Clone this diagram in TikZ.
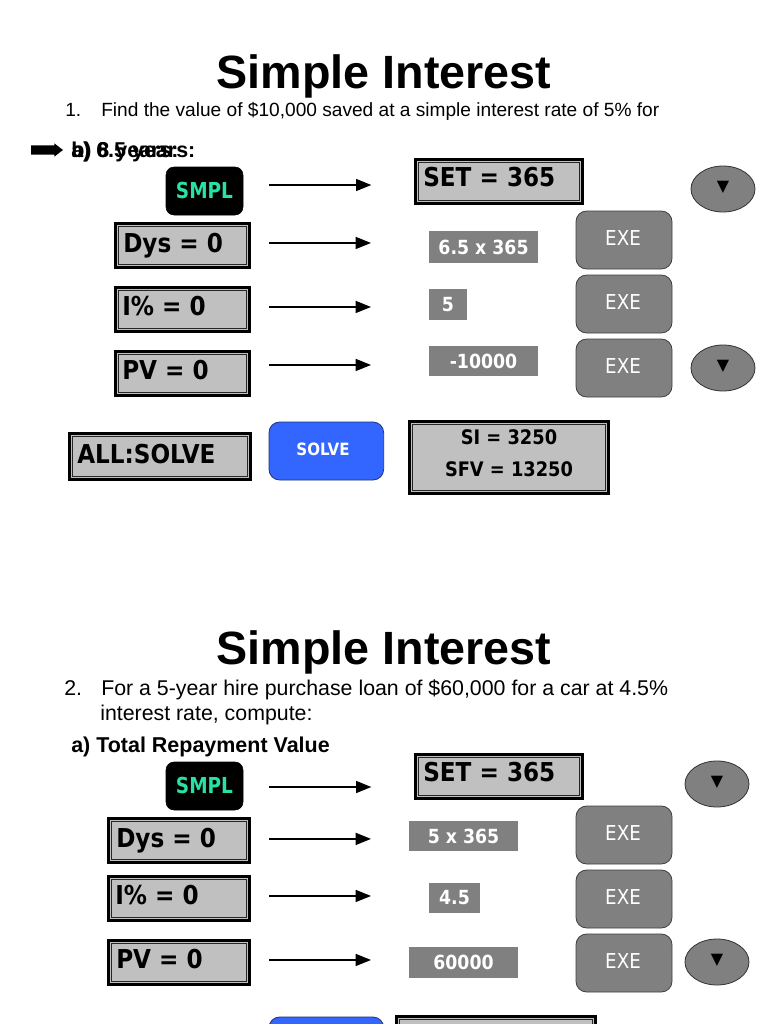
\documentclass[tikz,border=0pt]{standalone}
\usepackage{fontspec}
\setmainfont{Liberation Sans}
\newfontfamily\lcd[FakeStretch=0.89]{DejaVu Sans}
\newfontfamily\smplfont[FakeStretch=0.84]{DejaVu Sans}
\newfontfamily\sym{DejaVu Sans}
\usetikzlibrary{arrows.meta,shapes.geometric,shapes.arrows}
\definecolor{lcdgray}{RGB}{192,192,192}
\definecolor{keygray}{RGB}{128,128,128}
\definecolor{solveblue}{RGB}{51,102,255}
\definecolor{solveedge}{RGB}{30,50,120}
\definecolor{smplgreen}{RGB}{40,225,165}
\tikzset{
  x=0.75pt,y=-0.75pt,
  title/.style={font=\fontsize{35}{40}\selectfont\bfseries,anchor=center,inner sep=0},
  body/.style={font=\fontsize{14.34}{17}\selectfont,anchor=base west,inner sep=0},
  bodylarge/.style={font=\fontsize{16}{19}\selectfont,anchor=base west,inner sep=0},
  sub/.style={font=\fontsize{16.1}{19}\selectfont\bfseries,anchor=base west,inner sep=0},
  lcdbox/.style={draw=black,line width=2pt,fill=lcdgray,outer sep=0,inner sep=0,anchor=north west,
     xshift=1pt,yshift=-1pt,
     path picture={\draw[line width=0.6pt,black!85]
        ([shift={(3.3,3.3)}]path picture bounding box.north west) rectangle ([shift={(-3.3,-3.3)}]path picture bounding box.south east);}},
  lcdtext/.style={font=\lcd\bfseries\fontsize{19.5}{24}\selectfont,anchor=base west,inner sep=0},
  smpl/.style={fill=black,rounded corners=6pt,draw=black,anchor=north west,inner sep=0,outer sep=0,
     text=smplgreen,font=\smplfont\bfseries\fontsize{16.5}{18}\selectfont},
  val/.style={fill=keygray,text=white,font=\lcd\bfseries\fontsize{14.6}{17}\selectfont,anchor=north west,inner sep=0,outer sep=0},
  exe/.style={fill=keygray,draw=black!75,line width=0.6pt,rounded corners=8pt,anchor=north west,inner sep=0,outer sep=0,minimum width=72pt,minimum height=43.5pt},
  exetext/.style={text=white,font=\lcd\fontsize{15.4}{18}\selectfont,inner sep=0},
  oval/.style={ellipse,fill=keygray,draw=black!80,line width=0.6pt,minimum width=48pt,minimum height=34.5pt,inner sep=0,outer sep=0},
  tri/.style={font=\sym\fontsize{12}{14}\selectfont,inner sep=0},
  arr/.style={-{Triangle[length=11.5pt,width=9pt]},line width=1.1pt,black},
  solvebox/.style={fill=solveblue,draw=solveedge,line width=0.6pt,rounded corners=8pt,anchor=north west,inner sep=0,outer sep=0,minimum width=86pt,minimum height=43.5pt},
  restext/.style={font=\lcd\bfseries\fontsize{15}{18}\selectfont,inner sep=0},
}
\begin{document}
\begin{tikzpicture}
\useasboundingbox (0,0) rectangle (768,1024);
\clip (0,0) rectangle (768,1024);
\fill[white] (0,0) rectangle (768,1024);

% ---- page 1
\node[title] (t1) at (384,76) {Simple Interest};
\node[body] (n1) at (65,117) {1.};
\node[body] (q1) at (101,117) {Find the value of \$10,000 saved at a simple interest rate of 5\% for};
\node[sub] (sa) at (71,157) {a) 6.5 years:};
\node[sub] (sb) at (71,157) {b) 8 years:};
\node[single arrow,fill=black,inner sep=3.2pt,outer sep=0,single arrow head extend=1.5pt,single arrow tip angle=75,minimum height=24pt,anchor=west] (pt) at (31,150) {};

\node[smpl,minimum width=57.75pt,minimum height=36pt] (s1) at (166,167) {\raisebox{1.5pt}{SMPL}};
\node[lcdbox,minimum width=125.5pt,minimum height=33.25pt] (set1) at (414,158) {};
\node[lcdtext] (set1t) at (423,186) {SET = 365};
\node[oval] (ov1) at (723,189) {};
\node[tri] (tr1) at (723,187) {▼};

\node[lcdbox,minimum width=100.75pt,minimum height=33.25pt] (d1) at (114,222) {};
\node[lcdtext] (d1t) at (123,252) {Dys = 0};
\node[val,minimum width=81.75pt,minimum height=24pt] (v1) at (429,231) {6.5 x 365};
\node[exe] (e1) at (576,211) {};
\node[exetext] (e1t) at (623,238) {EXE};

\node[lcdbox,minimum width=100.75pt,minimum height=33.25pt] (i1) at (114,286) {};
\node[lcdtext] (i1t) at (122,315) {I\% = 0};
\node[val,minimum width=28.5pt,minimum height=23.25pt] (v2) at (429,289) {5};
\node[exe] (e2) at (576,275) {};
\node[exetext] (e2t) at (623,302) {EXE};

\node[lcdbox,minimum width=100.75pt,minimum height=33.25pt] (p1) at (114,350) {};
\node[lcdtext] (p1t) at (122,379) {PV = 0};
\node[val,minimum width=81.75pt,minimum height=22.5pt] (v3) at (429,346) {-10000};
\node[exe] (e3) at (576,339) {};
\node[exetext] (e3t) at (623,366) {EXE};
\node[oval] (ov2) at (723,368) {};
\node[tri] (tr2) at (723,366) {▼};

\node[lcdbox,minimum width=136pt,minimum height=34.75pt] (a1) at (68,432) {};
\node[lcdtext] (a1t) at (77,463) {ALL:SOLVE};
\node[solvebox] (sv1) at (269,422) {};
\node[text=white,font=\lcd\bfseries\fontsize{12.7}{15}\selectfont,inner sep=0] (sv1t) at (323,449) {SOLVE};
\node[lcdbox,minimum width=149.5pt,minimum height=54.25pt] (r1) at (408,420) {};
\node[restext] (r1a) at (509,437) {SI = 3250};
\node[restext] (r1b) at (509,469) {SFV = 13250};

\draw[arr,shorten <=19.5pt,shorten >=33pt,transform canvas={yshift=4.5pt}] (s1.east) -- (s1.east -| set1.west);
\draw[arr,shorten <=14.5pt,shorten >=43.5pt,transform canvas={yshift=1.9pt}] (d1.east) -- (d1.east -| v1.west);
\draw[arr,shorten <=14.5pt,shorten >=43.5pt,transform canvas={yshift=1.9pt}] (i1.east) -- (i1.east -| v2.west);
\draw[arr,shorten <=14.5pt,shorten >=43.5pt,transform canvas={yshift=6.4pt}] (p1.east) -- (p1.east -| v3.west);

% ---- page 2
\node[title] (t2) at (384,652) {Simple Interest};
\node[bodylarge] (n2) at (64,695.5) {2.};
\node[bodylarge] (q2) at (101,695.5) {For a 5-year hire purchase loan of \$60,000 for a car at 4.5\%};
\node[bodylarge] (q2b) at (100,720.5) {interest rate, compute:};
\node[sub] (sc) at (71,752) {a) Total Repayment Value};

\node[smpl,minimum width=57.75pt,minimum height=36pt] (s2) at (166,762) {\raisebox{1.5pt}{SMPL}};
\node[lcdbox,minimum width=125.5pt,minimum height=33.25pt] (set2) at (414,753) {};
\node[lcdtext] (set2t) at (423,781) {SET = 365};
\node[oval] (ov3) at (717,784) {};
\node[tri] (tr3) at (717,782) {▼};

\node[lcdbox,minimum width=106pt,minimum height=33.25pt] (d2) at (107,817) {};
\node[lcdtext] (d2t) at (116,847) {Dys = 0};
\node[val,minimum width=81.75pt,minimum height=22.5pt] (v4) at (409,821) {5 x 365};
\node[exe] (e4) at (576,806) {};
\node[exetext] (e4t) at (623,833) {EXE};

\node[lcdbox,minimum width=106pt,minimum height=33.25pt] (i2) at (107,875) {};
\node[lcdtext] (i2t) at (115,904) {I\% = 0};
\node[val,minimum width=38.25pt,minimum height=22.5pt] (v5) at (429,883) {4.5};
\node[exe] (e5) at (576,870) {};
\node[exetext] (e5t) at (623,897) {EXE};

\node[lcdbox,minimum width=106pt,minimum height=33.25pt] (p2) at (107,939) {};
\node[lcdtext] (p2t) at (116,968) {PV = 0};
\node[val,minimum width=81.75pt,minimum height=23.25pt] (v6) at (409,947) {60000};
\node[exe] (e6) at (576,934) {};
\node[exetext] (e6t) at (623,961) {EXE};
\node[oval] (ov4) at (717,962) {};
\node[tri] (tr4) at (717,960) {▼};

\node[solvebox] (sv2) at (269,1017) {};
\node[lcdbox,minimum width=149.5pt,minimum height=54.25pt] (r2) at (395,1015) {};

\draw[arr,shorten <=19.5pt,shorten >=33pt,transform canvas={yshift=-0.75pt}] (s2.east) -- (s2.east -| set2.west);
\draw[arr,shorten <=14.5pt,shorten >=28.5pt,transform canvas={yshift=1.2pt}] (d2.east) -- (d2.east -| v4.west);
\draw[arr,shorten <=14.5pt,shorten >=43.5pt,transform canvas={yshift=1.9pt}] (i2.east) -- (i2.east -| v5.west);
\draw[arr,shorten <=14.5pt,shorten >=28.5pt,transform canvas={yshift=1.9pt}] (p2.east) -- (p2.east -| v6.west);
\end{tikzpicture}
\end{document}
